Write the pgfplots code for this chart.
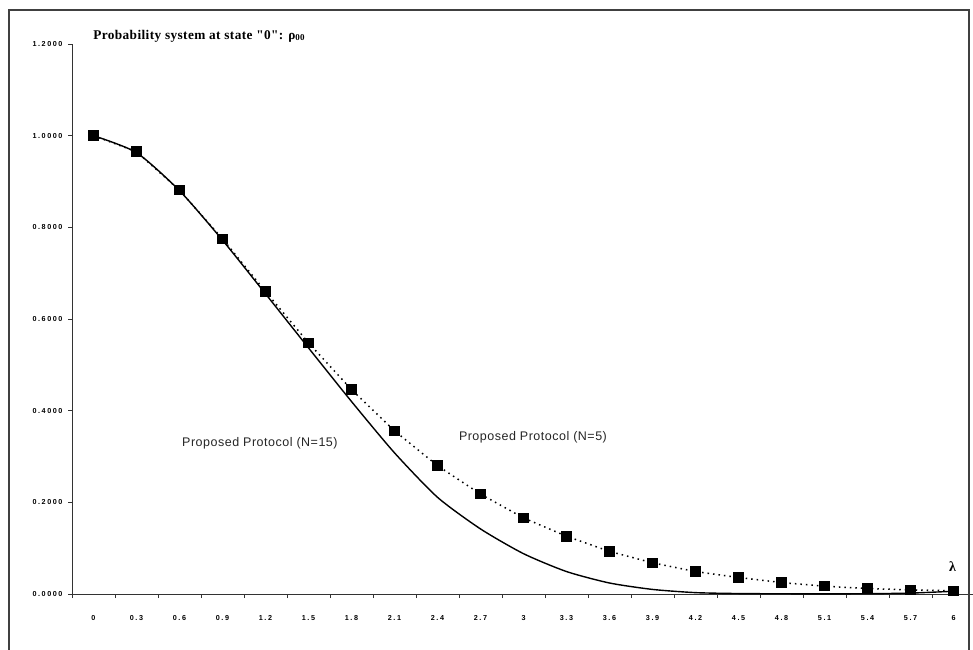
\documentclass[border=0pt]{standalone}
\usepackage{fontspec}
\setmainfont{Liberation Serif}
\newfontfamily\titlef{Liberation Serif}[LetterSpace=3]
\newfontfamily\sansf{Liberation Sans}[LetterSpace=4]
\newfontfamily\tickf{Liberation Sans}[LetterSpace=22]
\usepackage{pgfplots}
\pgfplotsset{compat=1.18}
\begin{document}
\begin{tikzpicture}
\useasboundingbox (-72pt,-55pt) rectangle (901pt,594pt);
\begin{axis}[
  at={(0pt,0pt)}, anchor=south west,
  scale only axis, width=903pt, height=550pt,
  xmin=-0.5, xmax=20.5, ymin=0, ymax=1.2,
  axis lines*=left,
  axis line style={line width=1pt, black!80},
  clip=false,
  tick align=outside,
  major tick length=4pt,
  tick style={line width=0.8pt, black!80},
  xtick={-0.5,0.5,...,20.5},
  x tick label as interval,
  xticklabels={0,0.3,0.6,0.9,1.2,1.5,1.8,2.1,2.4,2.7,3,3.3,3.6,3.9,4.2,4.5,4.8,5.1,5.4,5.7,6},
  ytick={0,0.2,0.4,0.6,0.8,1.0,1.2},
  /pgf/number format/assume math mode=true,
  yticklabel style={xshift=-2pt, /pgf/number format/fixed, /pgf/number format/fixed zerofill, /pgf/number format/precision=4},
  ticklabel style={font=\tickf\bfseries\fontsize{7.2}{8}\selectfont, text=black},
  xticklabel style={yshift=-14pt},
]
% N=15 (solid)
\addplot[black, line width=1.4pt, smooth, tension=0.4] coordinates {
 (0,1.000) (1,0.963) (2,0.880) (3,0.772) (4,0.655) (5,0.537) (6,0.420)
 (7,0.308) (8,0.211) (9,0.142) (10,0.088) (11,0.049) (12,0.024) (13,0.010)
 (14,0.003) (15,0.001) (16,0.0005) (17,0.0004) (18,0.0006) (19,0.002) (20,0.006)
};
% N=5 (dotted with squares)
\addplot[black, line width=1.5pt, dash pattern=on 1.5pt off 4pt,
  mark=square*, mark size=4.5pt, mark options={solid, fill=black}] coordinates {
 (0,1.000) (1,0.965) (2,0.881) (3,0.775) (4,0.660) (5,0.548) (6,0.446)
 (7,0.356) (8,0.280) (9,0.218) (10,0.166) (11,0.126) (12,0.093) (13,0.068)
 (14,0.049) (15,0.036) (16,0.025) (17,0.017) (18,0.012) (19,0.009) (20,0.007)
};
\node[anchor=base west, font=\titlef\bfseries\fontsize{13.3}{15}\selectfont, inner sep=0pt]
  at (axis cs:-0.01,1.21) {Probability system at state "0": ρ\raisebox{-0.8pt}{\fontsize{9}{10}\selectfont 00}};
\node[font=\sansf\fontsize{12.5}{14}\selectfont, text=black!85] at (axis cs:3.87,0.329) {Proposed Protocol (N=15)};
\node[font=\sansf\fontsize{12.5}{14}\selectfont, text=black!85] at (axis cs:10.22,0.343) {Proposed Protocol (N=5)};
\node[font=\bfseries\fontsize{14}{16}\selectfont] at (axis cs:19.98,0.06) {λ};
\end{axis}
\draw[line width=1.2pt, black!75] (-63pt,-70pt) rectangle (897pt,584pt);
\end{tikzpicture}
\end{document}
